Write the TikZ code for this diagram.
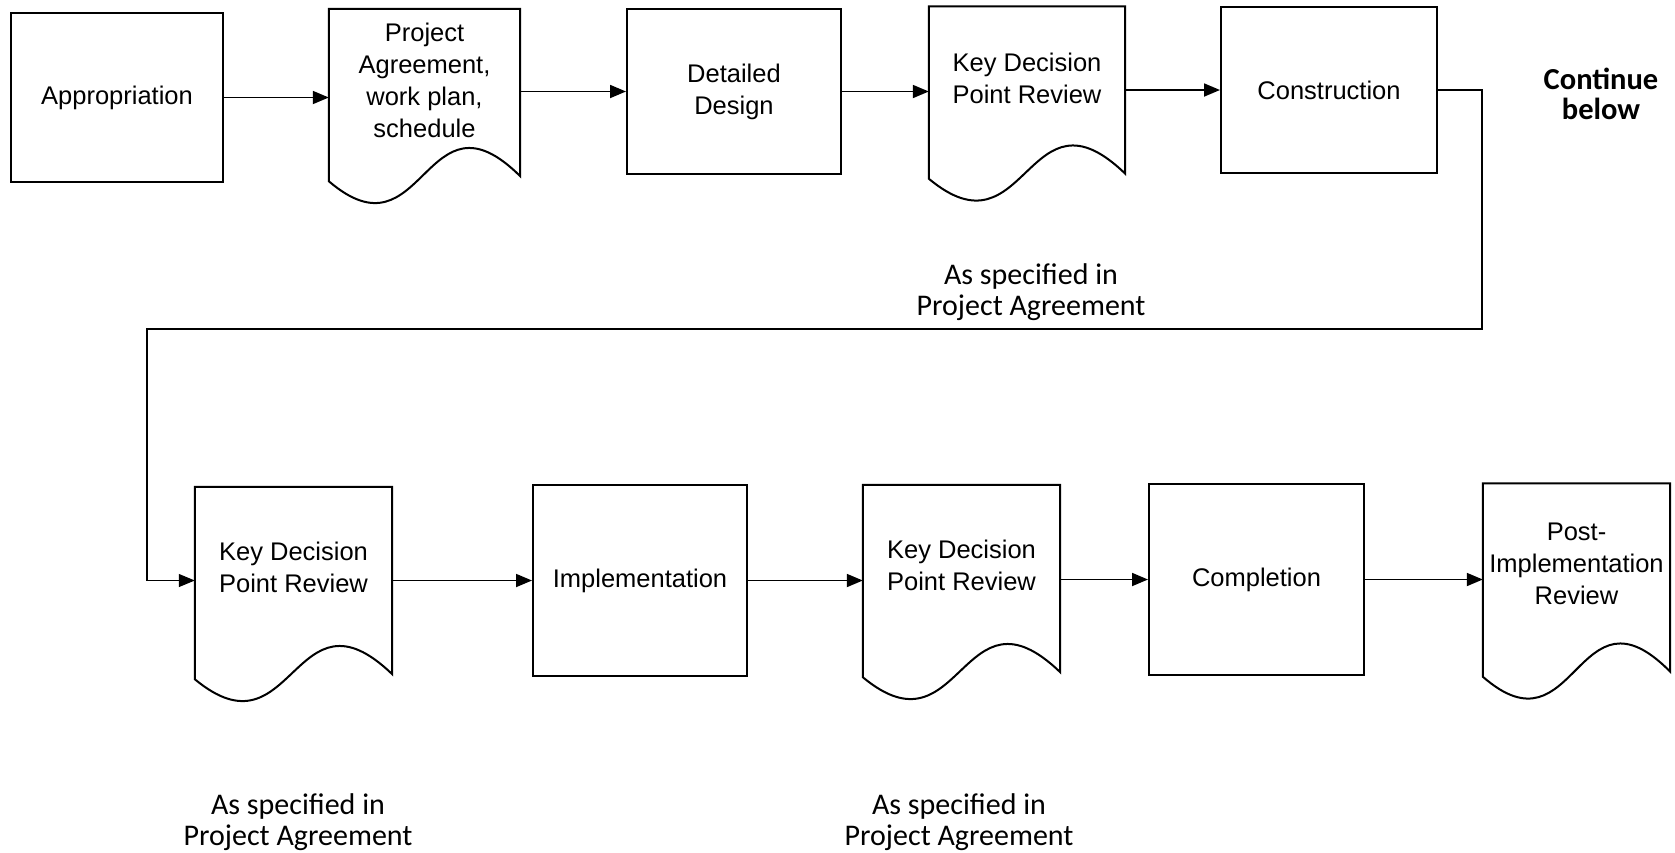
\documentclass[tikz,border=0pt]{standalone}
\usepackage{fontspec}
\setmainfont{Liberation Sans}
\newfontfamily\notefont{Carlito}
\usetikzlibrary{arrows.meta}

\tikzset{
  box/.style={draw, line width=2pt, align=center, inner sep=0pt, font=\fontsize{25.5}{32}\selectfont},
  doc/.style={align=center, inner sep=0pt, font=\fontsize{25.5}{32}\selectfont},
  note/.style={align=center, font=\notefont\fontsize{30}{31}\selectfont},
  flow/.style={line width=1.8pt, -{Triangle[length=16pt,width=13pt]}}
}

\begin{document}
\begin{tikzpicture}[x=1pt, y=-1pt]
        \useasboundingbox (0,0) rectangle (1675,852);
        \node[box, minimum width=212pt, minimum height=169pt] (app) at (117,97.5) {Appropriation};
        \node[doc, minimum width=191pt, minimum height=143pt] (pa) at (424.5,80.5) {Project\\Agreement,\\work plan,\\schedule};
        \node[box, minimum width=214pt, minimum height=165pt] (design) at (734,91.5) {Detailed\\Design};
        \node[doc, minimum width=196pt, minimum height=143pt] (kdpa) at (1027,78) {Key Decision\\Point Review};
        \node[box, minimum width=216pt, minimum height=166pt] (constr) at (1329,90) {Construction};
        \node[doc, minimum width=197pt, minimum height=160pt] (kdpb) at (293.5,567) {Key Decision\\Point Review};
        \node[box, minimum width=214pt, minimum height=191pt] (impl) at (640,580.5) {Implementation};
        \node[doc, minimum width=197pt, minimum height=160pt] (kdpc) at (961.5,565) {Key Decision\\Point Review};
        \node[box, minimum width=215pt, minimum height=191pt] (compl) at (1256.5,579.5) {Completion};
        \node[doc, minimum width=187pt, minimum height=161pt] (pir) at (1576.5,564) {Post-\\Implementation\\Review};
        \foreach \d/\l/\r in {pa/29/24, kdpa/29/24, kdpb/32/27, kdpc/32/27, pir/32/27}
            \draw[line width=2pt] (\d.north east) -- (\d.north west) -- ([yshift={-\l pt}]\d.south west)
                .. controls ([yshift={-(\l+82)*1pt}]\d.south) and ([yshift={(95-\r)*1pt}]\d.south) .. ([yshift={-\r pt}]\d.south east) -- cycle;
        \node[note, font=\notefont\bfseries\fontsize{30.5}{30}\selectfont] (cont) at (1601,94) {Continue\\below};
        \node[note] (spec1) at (1031,292) {As specified in\\Project Agreement};
        \node[note] (spec2) at (298,822) {As specified in\\Project Agreement};
        \node[note] (spec3) at (959,822) {As specified in\\Project Agreement};
        \coordinate (turnr) at (1482,329);
        \coordinate (turnl) at (147,329);
        \draw[flow] (app.east) -- (app.east -| pa.west);
        \draw[flow] (design.west -| pa.east) -- (design.west);
        \draw[flow] (design.east) -- (design.east -| kdpa.west);
        \draw[flow] (constr.west -| kdpa.east) -- (constr.west);
        \draw[flow, line width=1.1pt] (constr.east) -| (turnr) -- (turnl) |- (kdpb.west |- impl.west);
        \draw[flow] (kdpb.east |- impl.west) -- (impl.west);
        \draw[flow] (impl.east) -- (impl.east -| kdpc.west);
        \draw[flow] (kdpc.east |- compl.west) -- (compl.west);
        \draw[flow] (compl.east) -- (compl.east -| pir.west);
    \end{tikzpicture}
\end{document}
